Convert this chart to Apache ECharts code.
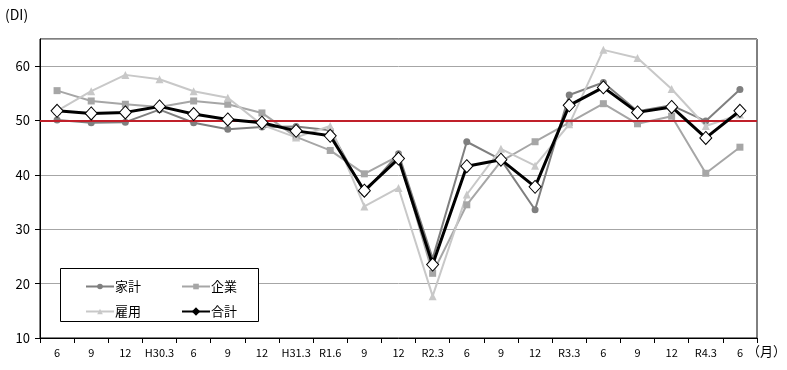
<!DOCTYPE html>
<html><head><meta charset="utf-8">
<script src="https://cdn.jsdelivr.net/npm/echarts@6/dist/echarts.min.js"></script>
<style>html,body{margin:0;padding:0;background:#fff}#c{width:787px;height:370px}</style>
</head><body><div id="c"></div>
<script>
const categories = ['6','9','12','H30.3','6','9','12','H31.3','R1.6','9','12','R2.3','6','9','12','R3.3','6','9','12','R4.3','6'];
const kakei = [50.1, 49.6, 49.7, 52.0, 49.6, 48.4, 48.8, 48.9, 48.2, 36.7, 43.9, 24.6, 46.1, 42.8, 33.6, 54.7, 57.0, 51.7, 52.8, 49.9, 55.7];
const kigyo = [55.5, 53.6, 53.0, 52.5, 53.6, 53.0, 51.4, 47.0, 44.5, 40.2, 43.5, 21.9, 34.5, 42.5, 46.1, 49.6, 53.1, 49.4, 50.8, 40.3, 45.1];
const koyo  = [51.8, 55.4, 58.4, 57.6, 55.4, 54.2, 49.2, 46.9, 49.0, 34.2, 37.6, 17.7, 36.4, 44.8, 41.7, 49.3, 63.0, 61.5, 55.8, 49.0, 51.1];
const gokei = [51.8, 51.3, 51.5, 52.6, 51.2, 50.2, 49.6, 48.1, 47.2, 37.1, 43.0, 23.5, 41.6, 42.8, 37.8, 52.8, 56.1, 51.5, 52.5, 46.8, 51.8];
const baseline = 50;

const font = '"Noto Sans CJK JP", "DejaVu Sans", sans-serif';
const chart = echarts.init(document.getElementById('c'), null, {renderer:'canvas'});
const legendText = {fontSize: 13, color: '#000', fontFamily: font, padding: [0, 0, 0, -4]};
chart.setOption({
  animation: false,
  backgroundColor: '#fff',
  textStyle: {fontFamily: font},
  grid: {left: 40, right: 30, top: 39, bottom: 32, show: true, borderColor: '#000', borderWidth: 1, backgroundColor: 'transparent'},
  xAxis: {
    type: 'category', data: categories, boundaryGap: true,
    axisLine: {lineStyle: {color: '#000', width: 1}},
    axisTick: {show: true, inside: false, length: 5, lineStyle: {color: '#000'}},
    axisLabel: {color: '#000', fontSize: 11, fontFamily: font, margin: 9, interval: 0}
  },
  yAxis: {
    type: 'value', min: 10, max: 65, interval: 10,
    axisLine: {show: true, lineStyle: {color: '#000', width: 1}},
    axisTick: {show: true, length: 5, lineStyle: {color: '#000'}},
    axisLabel: {color: '#000', fontSize: 13, fontFamily: font, margin: 10, showMaxLabel: false,
      formatter: v => (v === 65 ? '' : v)},
    splitLine: {lineStyle: {color: '#a6a6a6', width: 1}}
  },
  legend: [
    {data: ['家計','企業'], left: 80, top: 275, z: 60, itemWidth: 28, itemHeight: 7, itemGap: 40,
     textStyle: legendText},
    {data: ['雇用', {name: '合計', itemStyle: {color: '#000', borderColor: '#000'}}], left: 80, top: 300, z: 60,
     itemWidth: 28, itemHeight: 7, itemGap: 40, textStyle: legendText}
  ],
  graphic: [
    {type: 'rect', shape: {x: 60.5, y: 268.5, width: 198, height: 53}, style: {fill: '#fff', stroke: '#000', lineWidth: 1}, z: 10},
    {type: 'text', left: 5, top: 8, style: {text: '(DI)', fontSize: 14, fill: '#000', fontFamily: font}},
    {type: 'text', left: 747, top: 345, style: {text: '（月）', fontSize: 13, fill: '#000', fontFamily: font}}
  ],
  series: [
    {name: 'base', type: 'line', data: [], z: 1, silent: true,
     markLine: {silent: true, symbol: 'none', label: {show: false},
       lineStyle: {color: '#c0202a', width: 2, type: 'solid'}, data: [{yAxis: baseline}]}},
    {name: '家計', type: 'line', data: kakei, z: 3, symbol: 'circle', symbolSize: 7,
     itemStyle: {color: '#7f7f7f'}, lineStyle: {color: '#7f7f7f', width: 2}},
    {name: '企業', type: 'line', data: kigyo, z: 3, symbol: 'rect', symbolSize: 7,
     itemStyle: {color: '#a6a6a6'}, lineStyle: {color: '#a6a6a6', width: 2}},
    {name: '雇用', type: 'line', data: koyo, z: 3, symbol: 'triangle', symbolSize: 8,
     itemStyle: {color: '#c8c8c8'}, lineStyle: {color: '#c8c8c8', width: 2}},
    {name: '合計', type: 'line', data: gokei, z: 5, symbol: 'diamond', symbolSize: [12, 13],
     itemStyle: {color: '#fff', borderColor: '#000', borderWidth: 1},
     lineStyle: {color: '#000', width: 3}}
  ]
});
</script></body></html>
